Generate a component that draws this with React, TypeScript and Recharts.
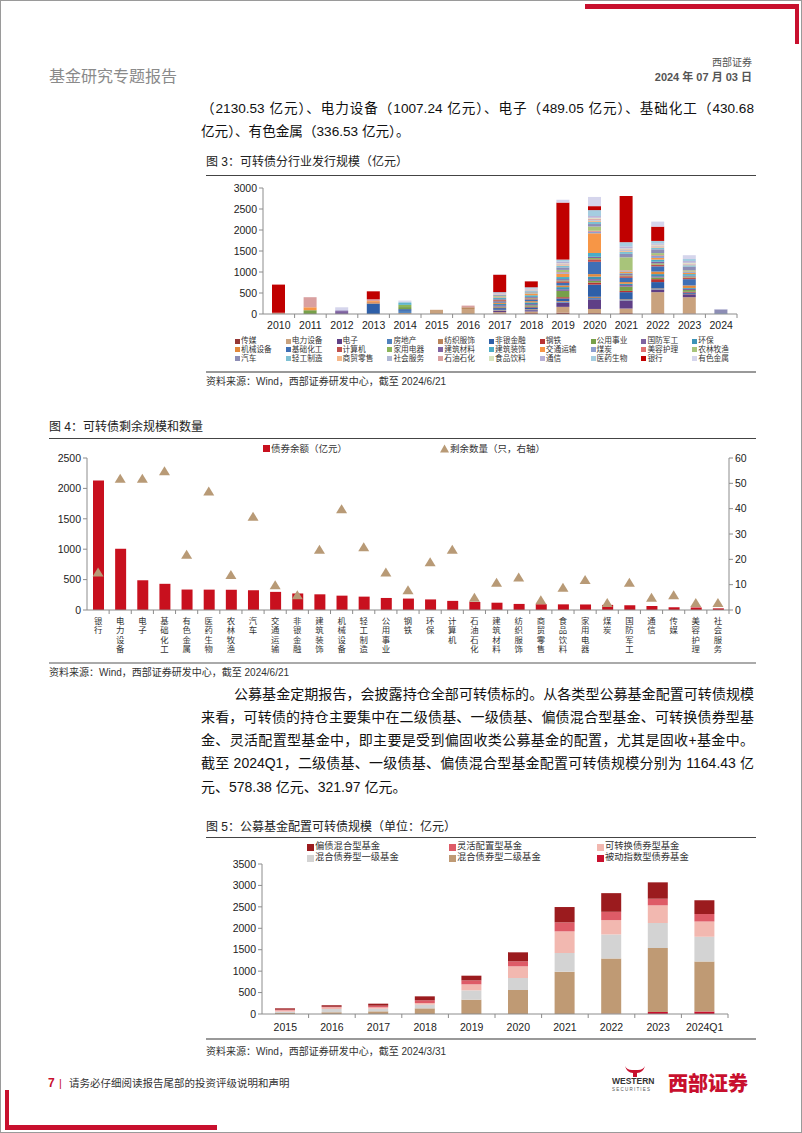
import React from "react";
import { Bar, BarChart, ComposedChart, Line, XAxis, YAxis } from "recharts";

const NUM = "'Liberation Sans', 'Noto Sans CJK SC', sans-serif";
const CJK = "'Noto Sans CJK SC', 'Liberation Sans', sans-serif";

// 图3：可转债分行业发行规模（亿元）
const issueYears = ["2010", "2011", "2012", "2013", "2014", "2015", "2016", "2017", "2018", "2019", "2020", "2021", "2022", "2023", "2024"];
const industries = [
  "传媒", "电力设备", "电子", "房地产", "纺织服饰", "非银金融", "钢铁", "公用事业", "国防军工", "环保",
  "机械设备", "基础化工", "计算机", "家用电器", "建筑材料", "建筑装饰", "交通运输", "煤炭", "美容护理", "农林牧渔",
  "汽车", "轻工制造", "商贸零售", "社会服务", "石油石化", "食品饮料", "通信", "医药生物", "银行", "有色金属",
];
// one row per industry, one value per year
const issueByIndustry = [
  [0, 0, 0, 0, 0, 0, 0, 15, 20, 30, 20, 20, 15, 10, 0],
  [20, 0, 0, 0, 25, 100, 120, 30, 40, 140, 100, 110, 505, 390, 0],
  [0, 0, 0, 0, 0, 0, 0, 30, 30, 100, 230, 190, 60, 70, 0],
  [0, 0, 0, 0, 50, 0, 0, 10, 10, 20, 30, 10, 10, 0, 0],
  [0, 0, 0, 0, 0, 0, 40, 15, 15, 20, 30, 20, 20, 10, 0],
  [0, 0, 0, 250, 40, 0, 0, 40, 41, 60, 290, 170, 150, 30, 0],
  [10, 0, 0, 0, 0, 0, 0, 15, 20, 30, 50, 30, 70, 20, 0],
  [0, 90, 0, 0, 50, 0, 0, 20, 30, 150, 40, 100, 40, 40, 0],
  [0, 0, 70, 0, 0, 0, 0, 35, 30, 40, 40, 40, 30, 30, 0],
  [0, 0, 0, 0, 0, 0, 0, 30, 40, 50, 60, 30, 50, 20, 0],
  [0, 0, 0, 30, 0, 0, 0, 30, 30, 40, 60, 40, 60, 60, 0],
  [0, 0, 0, 0, 0, 0, 0, 30, 40, 60, 292, 100, 125, 150, 15],
  [0, 0, 0, 10, 0, 0, 0, 30, 25, 40, 60, 40, 40, 40, 0],
  [0, 0, 0, 0, 55, 0, 0, 10, 15, 20, 30, 20, 30, 20, 0],
  [0, 0, 0, 0, 0, 0, 0, 15, 20, 30, 30, 30, 40, 20, 0],
  [0, 0, 0, 0, 40, 0, 0, 25, 40, 50, 90, 20, 50, 40, 0],
  [0, 70, 0, 20, 0, 0, 0, 15, 30, 80, 470, 40, 40, 30, 0],
  [0, 0, 0, 0, 0, 0, 0, 10, 10, 30, 40, 20, 50, 20, 0],
  [0, 0, 0, 0, 0, 0, 0, 5, 5, 10, 20, 10, 15, 10, 0],
  [0, 0, 0, 0, 0, 0, 0, 20, 20, 50, 100, 310, 50, 30, 0],
  [0, 0, 0, 0, 0, 0, 0, 20, 25, 60, 60, 80, 90, 90, 95],
  [0, 0, 0, 0, 0, 0, 0, 10, 15, 40, 50, 50, 40, 30, 0],
  [0, 0, 0, 0, 0, 0, 0, 10, 10, 20, 30, 20, 20, 10, 0],
  [0, 0, 0, 0, 0, 0, 0, 5, 10, 10, 20, 20, 10, 10, 0],
  [0, 240, 0, 40, 0, 0, 40, 5, 10, 20, 30, 20, 20, 20, 0],
  [0, 0, 0, 0, 0, 0, 0, 5, 5, 10, 20, 20, 20, 20, 0],
  [0, 0, 25, 0, 0, 0, 0, 15, 20, 40, 40, 50, 30, 40, 0],
  [0, 0, 0, 0, 30, 0, 0, 20, 30, 46, 142, 100, 60, 50, 0],
  [670, 0, 0, 190, 0, 0, 0, 415, 142, 1357, 94, 1100, 340, 0, 0],
  [0, 0, 65, 0, 30, 0, 0, 5, 2, 67, 219, 0, 120, 90, 10],
];
const issueTicks = [0, 500, 1000, 1500, 2000, 2500, 3000];
const industryColors = [
  "#953735", "#c9a27e", "#5f3f86", "#4f81bd", "#b9845a", "#2e5fa8", "#b83232", "#77a04a", "#7e62a0", "#3d93b7",
  "#e2893b", "#3f6fb5", "#c0504d", "#8cb55a", "#8064a2", "#4bacc6", "#f79646", "#8e9fd0", "#e07070", "#a8c47a",
  "#8d8db5", "#7ec0d3", "#f5b88a", "#b0b8d4", "#d9a0a0", "#d7e4bd", "#b8b0d5", "#a5cde0", "#c00000", "#d5d5ec",
];

// 图4：可转债剩余规模和数量
const remainIndustries = [
  "银行", "电力设备", "电子", "基础化工", "有色金属", "医药生物", "农林牧渔", "汽车", "交通运输", "非银金融",
  "建筑装饰", "机械设备", "轻工制造", "公用事业", "钢铁", "环保", "计算机", "石油石化", "建筑材料", "纺织服饰",
  "商贸零售", "食品饮料", "家用电器", "煤炭", "国防军工", "通信", "传媒", "美容护理", "社会服务",
];
const remainBalance = [
  2130.53, 1007.24, 489.05, 430.68, 336.53, 335, 333, 325, 298, 272,
  258, 236, 220, 198, 188, 174, 150, 132, 120, 100,
  95, 93, 91, 84, 78, 66, 45, 42, 27,
];
const remainCount = [
  15, 52, 52, 55, 22, 47, 14, 37, 10, 6,
  24, 40, 25, 15, 8, 19, 24, 5, 11, 13,
  4, 9, 12, 3, 11, 5, 6, 3, 3,
];
const balanceTicks = [0, 500, 1000, 1500, 2000, 2500];
const countTicks = [0, 10, 20, 30, 40, 50, 60];

// 图5：公募基金配置可转债规模（亿元）
const fundYears = ["2015", "2016", "2017", "2018", "2019", "2020", "2021", "2022", "2023", "2024Q1"];
const passiveIndex = [0, 0, 0, 0, 0, 0, 0, 5, 47, 60];
const mixedBond2 = [23, 39, 62, 132, 334, 560, 988, 1291, 1493, 1164];
const mixedBond1 = [31, 78, 62, 86, 218, 280, 435, 560, 583, 578];
const convertibleFund = [32, 39, 32, 39, 140, 272, 505, 334, 412, 355];
const flexibleFund = [15, 15, 38, 62, 93, 117, 210, 195, 155, 175];
const bondBiased = [31, 31, 47, 93, 109, 210, 358, 435, 382, 322];
const fundTicks = [0, 500, 1000, 1500, 2000, 2500, 3000, 3500];

const issueData = issueYears.map((year, yi) => {
  const row: Record<string, string | number> = { year };
  industries.forEach((name, ii) => {
    row[name] = issueByIndustry[ii][yi];
  });
  return row;
});

const remainData = remainIndustries.map((name, i) => ({
  name,
  balance: remainBalance[i],
  count: remainCount[i],
}));

const fundData = fundYears.map((year, i) => ({
  year,
  passive: passiveIndex[i],
  bond2: mixedBond2[i],
  bond1: mixedBond1[i],
  convertible: convertibleFund[i],
  flexible: flexibleFund[i],
  biased: bondBiased[i],
}));

const fundSeries = [
  { key: "passive", color: "#c8102e" },
  { key: "bond2", color: "#bf9a74" },
  { key: "bond1", color: "#d3d3d3" },
  { key: "convertible", color: "#f2b8b0" },
  { key: "flexible", color: "#de5b67" },
  { key: "biased", color: "#9b1b1e" },
];

const fundLegend = [
  { label: "偏债混合型基金", color: "#9b1b1e", x: 306, y: 846 },
  { label: "灵活配置型基金", color: "#de5b67", x: 448, y: 846 },
  { label: "可转换债券型基金", color: "#f2b8b0", x: 596, y: 846 },
  { label: "混合债券型一级基金", color: "#d3d3d3", x: 306, y: 857 },
  { label: "混合债券型二级基金", color: "#bf9a74", x: 448, y: 857 },
  { label: "被动指数型债券基金", color: "#c8102e", x: 596, y: 857 },
];

const AXIS = "#8c8c8c";

type TProps = {
  x: number;
  y: number;
  size: number;
  color?: string;
  weight?: number;
  family?: string;
  right?: boolean;
  children: React.ReactNode;
};

function T({ x, y, size, color = "#222", weight = 400, family = NUM, right, children }: TProps) {
  const style: React.CSSProperties = {
    position: "absolute",
    top: y - size / 2,
    height: size,
    lineHeight: `${size}px`,
    fontSize: size,
    color,
    fontWeight: weight,
    fontFamily: family,
    whiteSpace: "nowrap",
  };
  if (right) style.right = 802 - x;
  else style.left = x;
  return <div style={style}>{children}</div>;
}

function BodyLine({ y, text, justify = true, indent = 0, size = 14 }: { y: number; text: string; justify?: boolean; indent?: number; size?: number }) {
  return (
    <div
      style={{
        position: "absolute",
        left: 200,
        width: 553,
        top: y - 9,
        height: 18,
        lineHeight: "18px",
        fontSize: size,
        fontFamily: NUM,
        color: "#111",
        whiteSpace: "nowrap",
        paddingLeft: indent,
        boxSizing: "border-box",
        textAlign: "justify",
        textAlignLast: justify ? "justify" : "left",
      }}
    >
      {text}
    </div>
  );
}

function HLine({ x, y, w, color = "#999", h = 1 }: { x: number; y: number; w: number; color?: string; h?: number }) {
  return <div style={{ position: "absolute", left: x, top: y, width: w, height: h, background: color }} />;
}

function catTick(band: number, dy: number, size: number) {
  return (props: any) => {
    const { x, y, payload } = props;
    return (
      <g>
        <line x1={x + band / 2} y1={y} x2={x + band / 2} y2={y + 4} stroke={AXIS} />
        <text x={x} y={y + dy} textAnchor="middle" fontSize={size} fill="#222" fontFamily={NUM}>
          {payload.value}
        </text>
      </g>
    );
  };
}

// x labels of 图4 are written top-down, one character per line
function verticalTick(band: number) {
  return (props: any) => {
    const { x, y, payload } = props;
    const chars = String(payload.value).split("");
    return (
      <g>
        <line x1={x + band / 2} y1={y} x2={x + band / 2} y2={y + 4} stroke={AXIS} />
        {chars.map((c, i) => (
          <text key={i} x={x} y={y + 13.5 + i * 9.5} textAnchor="middle" fontSize={8.4} fill="#333" fontFamily={NUM}>
            {c}
          </text>
        ))}
      </g>
    );
  };
}

function triangleDot(props: any) {
  const { cx, cy, index } = props;
  if (cx == null || cy == null) return <g key={index} />;
  return (
    <polygon
      key={index}
      points={`${cx},${cy - 4.5} ${cx - 5.5},${cy + 4.5} ${cx + 5.5},${cy + 4.5}`}
      fill="#b89a76"
    />
  );
}

const yTick = { fontSize: 10.5, fill: "#222", fontFamily: NUM };

export default function App() {
  return (
    <div
      style={{
        position: "absolute",
        left: 0,
        top: 0,
        width: 802,
        height: 1133,
        overflow: "hidden",
        background: "#fff",
        border: "1px solid #9a9a9a",
        boxSizing: "border-box",
      }}
    >
      {/* page decorations */}
      <HLine x={584} y={3} w={212} h={5} color="#c8102e" />
      <div style={{ position: "absolute", left: 794, top: 3, width: 4, height: 40, background: "#c8102e" }} />
      <div style={{ position: "absolute", left: 4, top: 1089, width: 4, height: 40, background: "#c8102e" }} />
      <HLine x={4} y={1124} w={212} h={5} color="#c8102e" />

      {/* header */}
      <T x={48} y={74} size={16} color="#8a8a8a" family={CJK}>基金研究专题报告</T>
      <T x={753} y={62} size={10} color="#555" right>西部证券</T>
      <T x={753} y={76} size={11} color="#555" weight={700} right>2024 年 07 月 03 日</T>

      <BodyLine y={108} size={13.6} text="（2130.53 亿元）、电力设备（1007.24 亿元）、电子（489.05 亿元）、基础化工（430.68" />
      <BodyLine y={131} size={13.6} justify={false} text="亿元）、有色金属（336.53 亿元）。" />

      {/* 图3 */}
      <T x={205} y={161} size={12} color="#222">图 3：可转债分行业发行规模（亿元）</T>
      <HLine x={205} y={174} w={550} color="#444" />
      <div style={{ position: "absolute", left: 200, top: 180 }}>
        <BarChart width={550} height={153} data={issueData} margin={{ top: 7, right: 14, bottom: 0, left: 0 }}>
          <XAxis
            dataKey="year"
            interval={0}
            height={20}
            tickSize={0}
            tickMargin={0}
            tickLine={false}
            axisLine={{ stroke: AXIS }}
            tick={catTick(31.6, 15, 10.5)}
          />
          <YAxis
            width={62}
            domain={[0, 3000]}
            ticks={issueTicks}
            tickSize={4}
            tick={yTick}
            axisLine={{ stroke: AXIS }}
            tickLine={{ stroke: AXIS }}
          />
          {industries.map((name, i) => (
            <Bar key={name} dataKey={name} stackId="a" fill={industryColors[i]} barSize={13} isAnimationActive={false} />
          ))}
        </BarChart>
      </div>
      {industries.map((name, i) => {
        const col = i % 10;
        const row = Math.floor(i / 10);
        const x = 234 + col * 50.8;
        const y = 340 + row * 8.8;
        return (
          <div key={name}>
            <div style={{ position: "absolute", left: x, top: y - 2.5, width: 5, height: 5, background: industryColors[i] }} />
            <T x={x + 6} y={y} size={7.7} color="#333">{name}</T>
          </div>
        );
      })}
      <HLine x={205} y={370} w={550} color="#999" h={1.5} />
      <T x={205} y={381} size={10} color="#333">资料来源：Wind，西部证券研发中心，截至 2024/6/21</T>

      {/* 图4 */}
      <T x={48} y={426} size={12} color="#222">图 4：可转债剩余规模和数量</T>
      <HLine x={48} y={437} w={707} color="#444" />
      <div style={{ position: "absolute", left: 262, top: 444, width: 7, height: 7, background: "#c8101e" }} />
      <T x={270} y={447.5} size={9.5} color="#333">债券余额（亿元）</T>
      <svg style={{ position: "absolute", left: 439, top: 443 }} width={9} height={9}>
        <polygon points="4.5,0.5 0,8.5 9,8.5" fill="#b89a76" />
      </svg>
      <T x={449} y={447.5} size={9.5} color="#333">剩余数量（只，右轴）</T>
      <div style={{ position: "absolute", left: 40, top: 440 }}>
        <ComposedChart width={730} height={219} data={remainData} margin={{ top: 17, right: 0, bottom: 0, left: 0 }}>
          <XAxis
            dataKey="name"
            interval={0}
            height={50}
            tickSize={0}
            tickMargin={0}
            tickLine={false}
            axisLine={{ stroke: AXIS }}
            tick={verticalTick(22.14)}
          />
          <YAxis
            yAxisId="l"
            width={46}
            domain={[0, 2500]}
            ticks={balanceTicks}
            tickSize={4}
            tick={yTick}
            axisLine={{ stroke: AXIS }}
            tickLine={{ stroke: AXIS }}
          />
          <YAxis
            yAxisId="r"
            orientation="right"
            width={42}
            domain={[0, 60]}
            ticks={countTicks}
            tickSize={4}
            tick={yTick}
            axisLine={{ stroke: AXIS }}
            tickLine={{ stroke: AXIS }}
          />
          <Bar yAxisId="l" dataKey="balance" fill="#c8101e" barSize={11} isAnimationActive={false} />
          <Line
            yAxisId="r"
            dataKey="count"
            stroke="none"
            strokeWidth={0}
            dot={triangleDot}
            activeDot={false}
            isAnimationActive={false}
          />
        </ComposedChart>
      </div>
      <HLine x={48} y={661} w={707} color="#aaa" h={1.5} />
      <T x={48} y={672} size={10} color="#333">资料来源：Wind，西部证券研发中心，截至 2024/6/21</T>

      <BodyLine y={693} indent={33} text="公募基金定期报告，会披露持仓全部可转债标的。从各类型公募基金配置可转债规模" />
      <BodyLine y={716} text="来看，可转债的持仓主要集中在二级债基、一级债基、偏债混合型基金、可转换债券型基" />
      <BodyLine y={739} text="金、灵活配置型基金中，即主要是受到偏固收类公募基金的配置，尤其是固收+基金中。" />
      <BodyLine y={762} text="截至 2024Q1，二级债基、一级债基、偏债混合型基金配置可转债规模分别为 1164.43 亿" />
      <BodyLine y={786} justify={false} text="元、578.38 亿元、321.97 亿元。" />

      {/* 图5 */}
      <T x={205} y={826} size={12} color="#222">图 5：公募基金配置可转债规模（单位：亿元）</T>
      <HLine x={205} y={836} w={550} color="#444" />
      {fundLegend.map((item) => (
        <div key={item.label}>
          <div style={{ position: "absolute", left: item.x, top: item.y - 3.5, width: 7, height: 7, background: item.color }} />
          <T x={item.x + 8} y={item.y} size={9.3} color="#333">{item.label}</T>
        </div>
      ))}
      <div style={{ position: "absolute", left: 200, top: 856 }}>
        <BarChart width={540} height={179} data={fundData} margin={{ top: 7, right: 13, bottom: 0, left: 0 }}>
          <XAxis
            dataKey="year"
            interval={0}
            height={22}
            tickSize={0}
            tickMargin={0}
            tickLine={false}
            axisLine={{ stroke: AXIS }}
            tick={catTick(46.6, 16.5, 10.5)}
          />
          <YAxis
            width={61}
            domain={[0, 3500]}
            ticks={fundTicks}
            tickSize={4}
            tick={yTick}
            axisLine={{ stroke: AXIS }}
            tickLine={{ stroke: AXIS }}
          />
          {fundSeries.map((s) => (
            <Bar key={s.key} dataKey={s.key} stackId="f" fill={s.color} barSize={20} isAnimationActive={false} />
          ))}
        </BarChart>
      </div>
      <HLine x={205} y={1037} w={550} color="#999" h={1.5} />
      <T x={205} y={1051} size={10} color="#333">资料来源：Wind，西部证券研发中心，截至 2024/3/31</T>

      {/* footer */}
      <T x={47} y={1082} size={12} color="#c8102e" weight={700}>7</T>
      <T x={58} y={1082} size={11} color="#c8102e">|</T>
      <T x={68} y={1082} size={10.5} color="#333">请务必仔细阅读报告尾部的投资评级说明和声明</T>
      <T x={611} y={1080} size={8.5} color="#333" weight={700}>WESTERN</T>
      <T x={611} y={1089} size={4.5} color="#555">S E C U R I T I E S</T>
      <svg style={{ position: "absolute", left: 622, top: 1064 }} width={24} height={12}>
        <path d="M2 1 Q4 8 10 8 L14 8 Q20 8 22 1 Q20 5 15 5 L9 5 Q4 5 2 1 Z" fill="#c8102e" />
        <rect x={10} y={7} width={4} height={5} fill="#c8102e" />
      </svg>
      <T x={667} y={1083} size={20} color="#c8102e" weight={900}>西部证券</T>
    </div>
  );
}
